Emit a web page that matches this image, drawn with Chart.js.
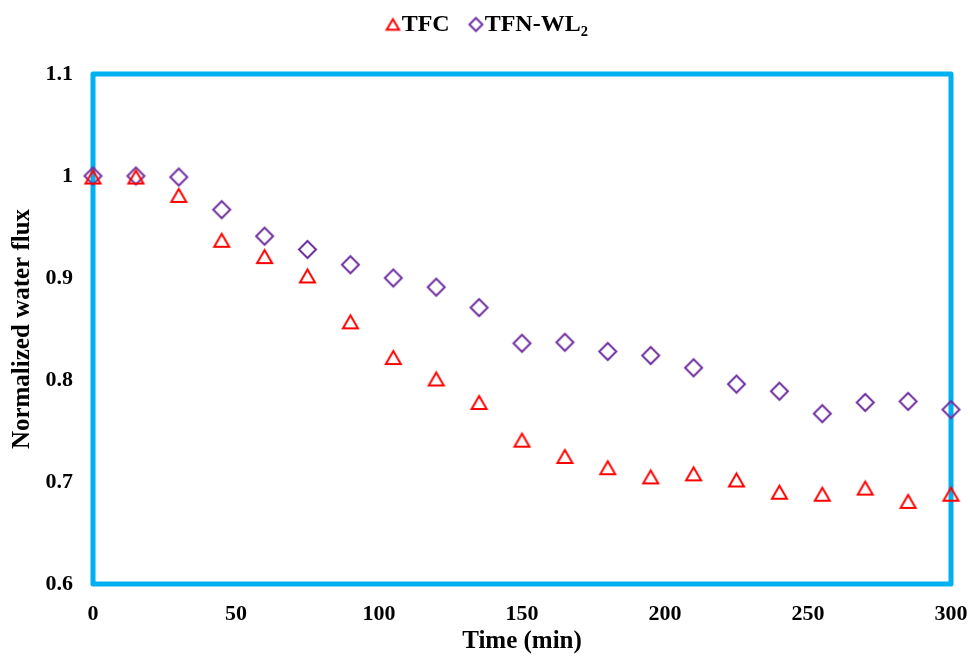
<!DOCTYPE html>
<html><head><meta charset="utf-8">
<script src="https://cdn.jsdelivr.net/npm/chart.js@4.4.0/dist/chart.umd.min.js"></script>
<style>html,body{margin:0;padding:0;background:#fff;}</style>
</head><body>
<canvas id="c" width="970" height="659" style="width:970px;height:659px;display:block"></canvas>
<script>
const times = [0,15,30,45,60,75,90,105,120,135,150,165,180,195,210,225,240,255,270,285,300];
const tfc = [0.999,0.999,0.981,0.937,0.921,0.902,0.857,0.822,0.801,0.778,0.741,0.725,0.714,0.705,0.708,0.702,0.690,0.688,0.694,0.681,0.688];
const tfnwl2 = [1.0,1.0,0.999,0.967,0.941,0.928,0.913,0.900,0.891,0.871,0.836,0.837,0.828,0.824,0.812,0.796,0.789,0.767,0.778,0.779,0.771];
const seriesNames = ['TFC','TFN-WL\u2082'];
const xTicks = [0,50,100,150,200,250,300];
const xTickLabels = ['0','50','100','150','200','250','300'];
const yTicks = [0.6,0.7,0.8,0.9,1.0,1.1];
const yTickLabels = ['0.6','0.7','0.8','0.9','1','1.1'];

const RED = '#FF0000', PURPLE = '#7030A0', BLUE = '#00B0F0';
const FONT = '"Liberation Serif","Times New Roman",serif';

function triangleCanvas(w, h, lw, color, offX) {
  const size = Math.ceil(Math.max(w, h) + lw * 2 + Math.abs(offX) * 2 + 2);
  const c = document.createElement('canvas');
  c.width = size; c.height = size;
  const ctx = c.getContext('2d');
  const cx = size / 2 + offX, cy = size / 2;
  ctx.strokeStyle = color; ctx.lineWidth = lw; ctx.lineJoin = 'miter';
  ctx.beginPath();
  ctx.moveTo(cx, cy - h / 2);
  ctx.lineTo(cx + w / 2, cy + h / 2);
  ctx.lineTo(cx - w / 2, cy + h / 2);
  ctx.closePath();
  ctx.stroke();
  return c;
}
function diamondCanvas(r, lw, color, offX) {
  const size = Math.ceil(2 * r + lw * 2 + Math.abs(offX) * 2 + 2);
  const c = document.createElement('canvas');
  c.width = size; c.height = size;
  const ctx = c.getContext('2d');
  const cx = size / 2 + offX, cy = size / 2;
  ctx.strokeStyle = color; ctx.lineWidth = lw; ctx.lineJoin = 'miter';
  ctx.beginPath();
  ctx.moveTo(cx, cy - r); ctx.lineTo(cx + r, cy); ctx.lineTo(cx, cy + r); ctx.lineTo(cx - r, cy);
  ctx.closePath();
  ctx.stroke();
  return c;
}

const triPlot = triangleCanvas(15, 13, 2, RED, 0);
const diaPlot = diamondCanvas(8.5, 2, PURPLE, 0);
const legOff = 8.5;
const triLeg = triangleCanvas(12.5, 10.5, 2, RED, legOff);
const diaLeg = diamondCanvas(6.5, 2, PURPLE, legOff);

const frame = {
  id: 'frame',
  beforeInit(chart) {
    const lg = chart.legend;
    if (lg) {
      const orig = lg.fit;
      lg.fit = function () { orig.call(this); this.height = 74; };
    }
  },
  beforeDatasetsDraw(chart) {
    const a = chart.chartArea, ctx = chart.ctx;
    ctx.save();
    ctx.strokeStyle = BLUE; ctx.lineWidth = 5; ctx.lineJoin = 'round';
    ctx.strokeRect(a.left, a.top, a.right - a.left, a.bottom - a.top);
    ctx.restore();
  }
};

new Chart(document.getElementById('c'), {
  type: 'scatter',
  data: {
    datasets: [
      { label: seriesNames[0], data: times.map((t, i) => ({x: t, y: tfc[i]})),
        pointStyle: triPlot, borderColor: RED, backgroundColor: 'transparent', clip: false, showLine: false },
      { label: seriesNames[1], data: times.map((t, i) => ({x: t, y: tfnwl2[i]})),
        pointStyle: diaPlot, borderColor: PURPLE, backgroundColor: 'transparent', clip: false, showLine: false }
    ]
  },
  options: {
    responsive: false, animation: false, devicePixelRatio: 1,
    layout: { padding: { left: 0, right: 3, top: 0, bottom: 0 } },
    plugins: {
      tooltip: { enabled: false },
      legend: {
        position: 'top', align: 'center',
        labels: {
          usePointStyle: true, pointStyleWidth: 10.5, padding: 12.5, color: '#000',
          font: { family: FONT, size: 24, weight: 'bold' },
          generateLabels() {
            return [
              { text: seriesNames[0], pointStyle: triLeg, fillStyle: 'transparent', strokeStyle: RED, lineWidth: 2, datasetIndex: 0, hidden: false, fontColor: '#000' },
              { text: seriesNames[1], pointStyle: diaLeg, fillStyle: 'transparent', strokeStyle: PURPLE, lineWidth: 2, datasetIndex: 1, hidden: false, fontColor: '#000' }
            ];
          }
        }
      }
    },
    scales: {
      x: {
        type: 'linear', min: 0, max: 300,
        afterFit(s) { s.height = 75; s.paddingLeft = 0; s.paddingRight = 19; },
        afterBuildTicks(s) { s.ticks = xTicks.map(v => ({value: v})); },
        grid: { display: false, drawTicks: false },
        border: { display: false },
        ticks: { padding: 17, color: '#000', font: { family: FONT, size: 22, weight: 'bold' },
          callback: (v) => xTickLabels[xTicks.indexOf(v)] },
        title: { display: true, text: 'Time (min)', color: '#000', padding: { top: 0, bottom: 2 },
          font: { family: FONT, size: 25, weight: 'bold' } }
      },
      y: {
        type: 'linear', min: 0.6, max: 1.1,
        afterFit(s) { s.width = 93; s.paddingTop = 0; s.paddingBottom = 0; },
        afterBuildTicks(s) { s.ticks = yTicks.map(v => ({value: v})); },
        grid: { display: false, drawTicks: false },
        border: { display: false },
        ticks: { padding: 20, color: '#000', font: { family: FONT, size: 22, weight: 'bold' },
          callback: (v) => { const i = yTicks.findIndex(t => Math.abs(t - v) < 1e-9); return i >= 0 ? yTickLabels[i] : ''; } },
        title: { display: true, text: 'Normalized water flux', color: '#000', padding: { top: 8, bottom: 0 },
          font: { family: FONT, size: 25, weight: 'bold' } }
      }
    }
  },
  plugins: [frame]
});
</script>
</body></html>
